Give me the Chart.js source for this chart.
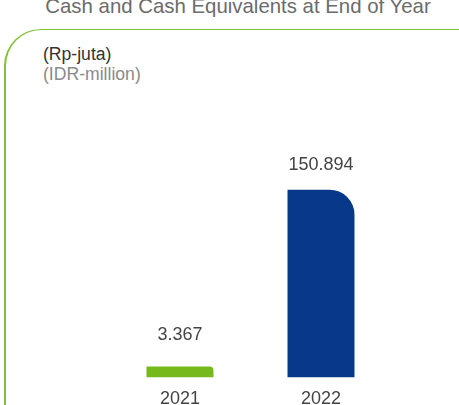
<!DOCTYPE html>
<html>
<head>
<meta charset="utf-8">
<script src="https://cdn.jsdelivr.net/npm/chart.js@4"></script>
<style>
  html, body { margin: 0; padding: 0; background: #fff; }
  body { width: 459px; height: 405px; overflow: hidden; position: relative; font-family: "Liberation Sans", Arial, sans-serif; }
  .judul { position: absolute; left: 0; width: 476px; top: -4px; text-align: center; font-size: 20.4px; line-height: 20px; color: #6b6b6b; white-space: nowrap; }
  .bingkai { position: absolute; left: 4px; top: 28.5px; width: 520px; height: 520px; border-top: 1.6px solid #84c13a; border-left: 2px solid #84c13a; border-top-left-radius: 37px; box-sizing: border-box; }
  .satuan { position: absolute; left: 43px; font-size: 17.6px; line-height: 20px; white-space: nowrap; }
  .satuan.id { top: 44px; color: #333; }
  .satuan.en { top: 64px; color: #8a8a8a; }
  #chartKas { position: absolute; left: 0; top: 0; }
</style>
</head>
<body>
<div class="judul">Cash and Cash Equivalents at End of Year</div>
<div class="bingkai"></div>
<div class="satuan id">(Rp-juta)</div>
<div class="satuan en">(IDR-million)</div>
<canvas id="chartKas" width="459" height="420"></canvas>
<script>
// Kas dan setara kas akhir tahun (Rp-juta)
const tahun = ["2021", "2022"];
const kasAkhirTahun = [3.367, 150.894];
const labelNilai = ["3.367", "150.894"];
const warnaBatang = ["#76b91a", "#08388a"];

// jarak label nilai di atas batang (px)
const jarakLabel = [26, 20];
const radiusSudut = [4, 25];

const labelNilaiPlugin = {
    id: "labelNilai",
    afterDatasetsDraw(chart) {
        const { ctx } = chart;
        const meta = chart.getDatasetMeta(0);
        ctx.save();
        ctx.font = '18px "Liberation Sans", Arial, sans-serif';
        ctx.fillStyle = "#444";
        ctx.textAlign = "center";
        ctx.textBaseline = "alphabetic";
        meta.data.forEach((bar, i) => {
            ctx.fillText(labelNilai[i], bar.x, bar.y - jarakLabel[i]);
        });
        ctx.restore();
    }
};

window.addEventListener("load", () => {
    const ctx = document.getElementById("chartKas");
    new Chart(ctx, {
        type: "bar",
        data: {
            labels: tahun,
            datasets: [{
                data: kasAkhirTahun,
                backgroundColor: warnaBatang,
                borderWidth: 0,
                borderSkipped: "start",
                borderRadius: (c) => ({ topLeft: 0, topRight: radiusSudut[c.dataIndex] || 0, bottomLeft: 0, bottomRight: 0 }),
                minBarLength: 11,
                categoryPercentage: 1,
                barPercentage: 0.475
            }]
        },
        options: {
            responsive: false,
            animation: false,
            layout: {
                padding: { top: 128.6, left: 109.5, right: 67.5, bottom: 7 }
            },
            plugins: {
                legend: { display: false },
                tooltip: { enabled: false },
                title: { display: false }
            },
            scales: {
                x: {
                    grid: { display: false },
                    border: { display: false },
                    ticks: {
                        color: "#444",
                        padding: 3,
                        font: { family: '"Liberation Sans", Arial, sans-serif', size: 18 }
                    }
                },
                y: {
                    display: false,
                    min: 0,
                    max: 200
                }
            }
        },
        plugins: [labelNilaiPlugin]
    });
});
</script>
</body>
</html>
